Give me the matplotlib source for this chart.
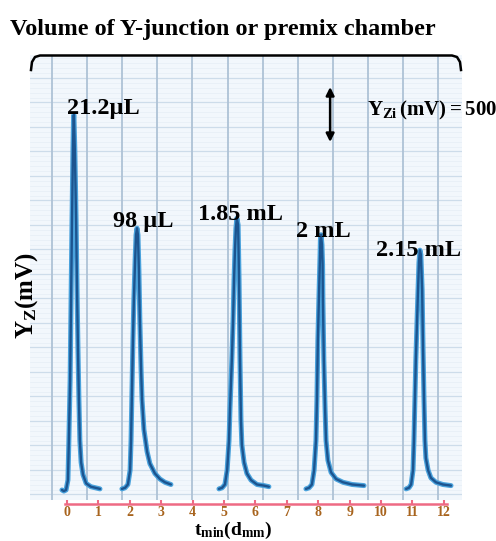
import matplotlib.pyplot as plt
import numpy as np

plt.rcParams['font.family'] = ['Liberation Serif', 'DejaVu Serif']
plt.rcParams['font.weight'] = 'bold'
plt.rcParams['mathtext.fontset'] = 'custom'
plt.rcParams['mathtext.rm'] = 'Liberation Serif:bold'
plt.rcParams['mathtext.it'] = 'Liberation Serif:bold'
plt.rcParams['mathtext.bf'] = 'Liberation Serif:bold'

# peak traces: t (min) and Y_Z (mV)
t_21uL = [-0.16, -0.10, -0.03, 0.03, 0.06, 0.10, 0.13, 0.16, 0.19, 0.21, 0.22, 0.25, 0.29,
          0.32, 0.35, 0.38, 0.41, 0.45, 0.51, 0.61, 0.76, 1.05]
y_21uL = [0, -10, 0, 90, 450, 1000, 1730, 2450, 3090, 3400, 3410, 3090, 2450,
          1820, 1270, 820, 450, 250, 140, 60, 30, 10]

t_98uL = [1.75, 1.85, 1.94, 2.01, 2.04, 2.07, 2.10, 2.13, 2.17, 2.20, 2.23, 2.26, 2.29,
          2.32, 2.36, 2.39, 2.45, 2.55, 2.64, 2.80, 2.96, 3.12, 3.31]
y_98uL = [10, 20, 50, 180, 450, 910, 1360, 1730, 2090, 2320, 2380, 2320, 2000,
          1550, 1090, 820, 550, 350, 240, 150, 100, 70, 50]

t_185mL = [4.84, 4.94, 5.03, 5.10, 5.16, 5.19, 5.25, 5.29, 5.32, 5.35, 5.38, 5.41, 5.45,
           5.48, 5.51, 5.54, 5.57, 5.64, 5.73, 5.86, 6.05, 6.27, 6.43]
y_185mL = [10, 20, 50, 180, 450, 730, 1180, 1550, 1910, 2180, 2380, 2470, 2410,
           1910, 1180, 640, 410, 250, 150, 90, 50, 40, 30]

t_2mL = [7.61, 7.71, 7.80, 7.87, 7.93, 7.96, 7.99, 8.03, 8.06, 8.07, 8.09, 8.12, 8.14,
         8.15, 8.18, 8.22, 8.25, 8.31, 8.41, 8.57, 8.79, 9.08, 9.46]
y_2mL = [10, 20, 50, 180, 450, 820, 1360, 1820, 2140, 2270, 2320, 2230, 2050,
         1730, 1180, 730, 450, 270, 160, 100, 70, 50, 40]

t_215mL = [10.80, 10.89, 10.96, 11.02, 11.05, 11.08, 11.11, 11.15, 11.18, 11.21, 11.24,
           11.27, 11.31, 11.34, 11.37, 11.40, 11.43, 11.50, 11.59, 11.75, 11.97, 12.23]
y_215mL = [10, 20, 50, 180, 450, 820, 1180, 1550, 1820, 2070, 2180,
           2140, 1820, 1270, 820, 450, 290, 180, 110, 70, 50, 40]

volumes = ['21.2µL', '98 µL', '1.85 mL', '2 mL', '2.15 mL']
label_t = [1.15, 2.42, 5.54, 8.18, 11.21]
label_y = [3420, 2390, 2450, 2300, 2130]
ticks = list(range(13))
scale_mv = 500

traces = [(t_21uL, y_21uL), (t_98uL, y_98uL), (t_185mL, y_185mL),
          (t_2mL, y_2mL), (t_215mL, y_215mL)]

fig = plt.figure(figsize=(4.96, 5.41), dpi=100)
ax = fig.add_axes([30 / 496, 41 / 541, 432 / 496, 445 / 541])
ax.set_facecolor('#f2f7fc')
ax.set_xlim(-1.178, 12.58)
ax.set_ylim(-91, 3954)

# chart paper grid
for yy in np.arange(182 - 222.7, 3954, 222.7 / 5):
    ax.axhline(yy, color='#e6eef6', lw=0.5, zorder=0)
for yy in np.arange(182 - 222.7, 3954, 222.7):
    ax.axhline(yy, color='#cddcea', lw=0.9, zorder=0)
for xx in np.arange(-0.478, 12.5, 1.118):
    ax.axvline(xx, color='#aec2d6', lw=1.3, zorder=0)

for tt, yy in traces:
    ax.plot(tt, yy, color='#4aa2dc', lw=3.6, solid_capstyle='round', zorder=2)
    ax.plot(tt, yy, color='#1c548f', lw=1.7, solid_capstyle='round', zorder=3)

for name, tx, ty in zip(volumes, label_t, label_y):
    ax.text(tx, ty, name, ha='center', va='baseline', fontsize=17.5,
            fontweight='bold', zorder=4)

# 500 mV scale bar
ax.annotate('', xy=(8.38, 3663), xytext=(8.38, 3663 - scale_mv),
            arrowprops=dict(arrowstyle='<|-|>', color='black', lw=1.8,
                            mutation_scale=12, shrinkA=0, shrinkB=0))
ax.text(9.55, 3400, r'$\mathrm{Y_{Zi}\,(mV) = %d}$' % scale_mv, ha='left',
        va='baseline', fontsize=15, clip_on=False)

for s in ['top', 'left', 'right']:
    ax.spines[s].set_visible(False)
ax.spines['bottom'].set_color('#ee6a84')
ax.spines['bottom'].set_linewidth(1.8)
ax.spines['bottom'].set_position(('outward', 3))
ax.spines['bottom'].set_bounds(-0.06, 12.1)
ax.set_xticks(ticks)
ax.tick_params(axis='x', direction='in', length=3, width=1.5, color='#ee6a84',
               labelcolor='#a8641e', labelsize=10, pad=1)
ax.set_yticks([])

# brace over the chart paper
bx = [31, 32, 35, 40, 452, 457, 460, 461]
by = [70, 62, 57, 55.5, 55.5, 57, 62, 70]
fig.add_artist(plt.Line2D([x / 496 for x in bx], [(541 - y) / 541 for y in by],
                          color='black', lw=1.8, transform=fig.transFigure))

fig.text(10 / 496, (541 - 35) / 541, 'Volume of Y-junction or premix chamber',
         fontsize=17.5, fontweight='bold', va='baseline', ha='left')
fig.text(27 / 496, (541 - 296) / 541, r'$\mathrm{Y_Z(mV)}$', rotation=90,
         fontsize=18, ha='center', va='center')
fig.text(233 / 496, (541 - 535) / 541, r'$\mathrm{t_{min}(d_{mm})}$',
         fontsize=14, ha='center', va='baseline')

fig.savefig('out.png', dpi=100)
